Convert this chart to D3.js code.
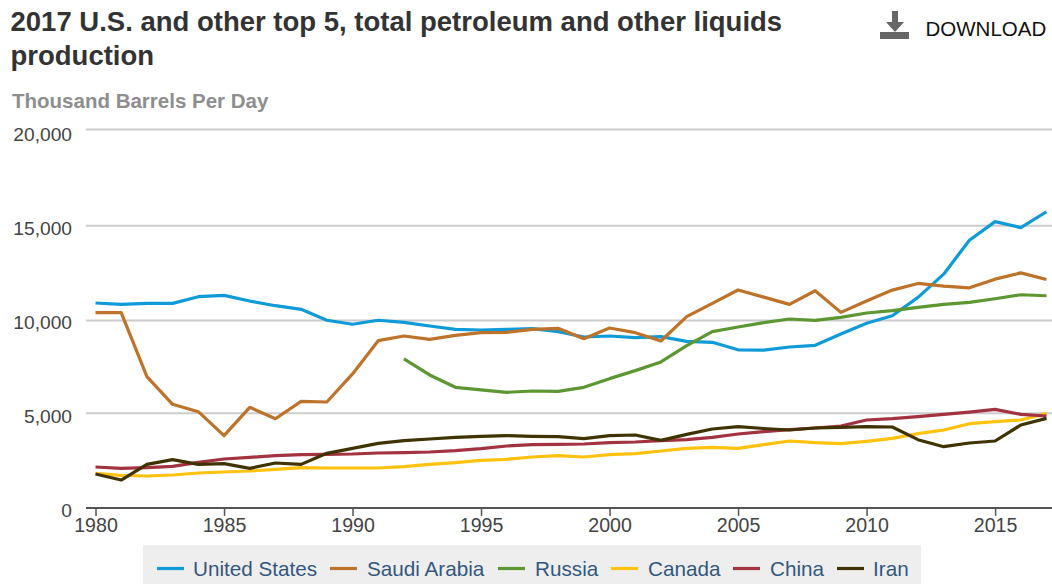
<!DOCTYPE html>
<html><head><meta charset="utf-8">
<script src="https://cdn.jsdelivr.net/npm/d3@7/dist/d3.min.js"></script>
<style>
html,body{margin:0;padding:0;background:#fff;overflow:hidden}
svg{display:block;font-family:"Liberation Sans",Arial,sans-serif}
.tick text{font-family:"Liberation Sans",Arial,sans-serif;fill:#444}
.ya .tick text{font-size:19.2px}
.xa .tick text{font-size:19.6px}
</style></head><body><svg id="c" width="1052" height="584"></svg>
<script>
const years = d3.range(1980, 2018);
const titleLines = ["2017 U.S. and other top 5, total petroleum and other liquids", "production"];
const subtitle = "Thousand Barrels Per Day";
const yTicks = [0, 5000, 10000, 15000, 20000];
const xTicks = [1980, 1985, 1990, 1995, 2000, 2005, 2010, 2015];
const unitedStates = [10898,10830,10880,10880,11230,11300,11000,10755,10565,9985,9770,9985,9875,9677,9497,9461,9497,9533,9371,9083,9137,9048,9102,8850,8796,8392,8374,8544,8634,9245,9820,10228,11193,12420,14210,15193,14877,15704];
const saudiArabia = [10385,10385,6944,5453,5054,3786,5291,4683,5614,5577,7090,8884,9137,8958,9173,9317,9335,9497,9551,8994,9569,9317,8868,10176,10880,11582,11210,10824,11544,10403,11000,11579,11930,11790,11700,12157,12490,12140];
const russia = [null,null,null,null,null,null,null,null,null,null,null,null,7898,7035,6370,6230,6100,6170,6150,6370,6837,7269,7736,8616,9371,9620,9856,10053,9982,10140,10368,10491,10667,10824,10930,11123,11333,11280];
const canada = [1798,1692,1657,1710,1816,1868,1921,2009,2097,2080,2080,2080,2150,2273,2362,2485,2538,2661,2732,2661,2785,2837,2978,3119,3172,3119,3310,3505,3417,3364,3488,3646,3892,4086,4420,4526,4614,4966];
const china = [2132,2062,2097,2168,2379,2555,2643,2731,2784,2801,2819,2872,2889,2924,2996,3101,3242,3312,3330,3348,3418,3453,3524,3577,3700,3876,3998,4104,4192,4297,4614,4684,4790,4913,5036,5177,4913,4825];
const iran = [1763,1446,2273,2520,2273,2308,2062,2344,2273,2854,3118,3382,3523,3611,3700,3753,3788,3753,3735,3629,3788,3823,3541,3858,4140,4263,4165,4086,4192,4227,4262,4244,3576,3206,3400,3505,4350,4702];
const seriesNames = ["United States","Saudi Arabia","Russia","Canada","China","Iran"];
const seriesValues = [unitedStates,saudiArabia,russia,canada,china,iran];
const seriesColors = ["#0f9bd7","#bd732a","#5d9732","#ffc20e","#a33340","#3f3303"];
const legendLineX = [157,330,498,611,733,837];
const legendTextX = [193,367,535,648,770,873];

const svg = d3.select("#c");
const x = d3.scaleLinear().domain([1980,2017]).range([95.5,1046.5]);
const y = d3.scaleLinear().domain(yTicks).range([507.4,412.7,320,225.3,129]);
const yLabel = d3.scaleLinear().domain([0,20000]).range([516.7,140.7]);

svg.selectAll(".title").data(titleLines).join("text").attr("class","title")
  .attr("x",10.5).attr("y",(d,i)=>30.5+i*34.5).attr("font-size",27.5).attr("font-weight","bold").attr("fill","#333").text(d=>d);
svg.append("text").attr("x",12).attr("y",107.7).attr("font-size",20.5).attr("font-weight","bold").attr("fill","#8e8e8e").text(subtitle);

// download
svg.append("path").attr("fill","#666")
  .attr("d",d3.line()([[892,11],[898,11],[898,22],[904,22],[895,32],[909,32],[909,39],[880,39],[880,32],[895,32],[886,22],[892,22]])+"Z");
svg.append("text").attr("x",925.5).attr("y",35.5).attr("font-size",20.5).attr("fill","#111").text("DOWNLOAD");

// y axis with gridlines
const gy = svg.append("g").attr("class","ya").attr("transform","translate(86,0)")
  .call(d3.axisLeft(y).tickValues(yTicks).tickSize(0).tickPadding(14).tickFormat(d3.format(",")));
gy.select(".domain").remove();
gy.selectAll(".tick text").attr("dy",0).attr("y",d=>yLabel(d)-y(d));
gy.selectAll(".tick line").attr("x1",0).attr("x2",966).attr("stroke","#ccc").attr("stroke-width",2);
gy.selectAll(".tick").filter(d=>d===0).select("line").attr("stroke","#555");

// x axis
const gx = svg.append("g").attr("class","xa").attr("transform","translate(0,507.4)")
  .call(d3.axisBottom(x).tickValues(xTicks).tickSize(8.5).tickPadding(2).tickFormat(d3.format("d")));
gx.select(".domain").remove();
gx.selectAll(".tick line").attr("stroke","#555").attr("stroke-width",1.5);

// lines
const line = d3.line().defined(d=>d.v!=null).x(d=>x(d.year)).y(d=>y(d.v));
svg.selectAll(".series").data(seriesValues).join("path").attr("class","series")
  .attr("fill","none").attr("stroke",(d,i)=>seriesColors[i]).attr("stroke-width",3.2).attr("stroke-linejoin","round")
  .attr("d",vals=>line(vals.map((v,i)=>({year:years[i],v}))));

// legend
svg.append("rect").attr("x",143).attr("y",545).attr("width",778).attr("height",39).attr("fill","#eee");
const lg = svg.selectAll(".lg").data(seriesNames).join("g").attr("class","lg");
lg.append("line").attr("x1",(d,i)=>legendLineX[i]).attr("x2",(d,i)=>legendLineX[i]+27).attr("y1",568.5).attr("y2",568.5)
  .attr("stroke",(d,i)=>seriesColors[i]).attr("stroke-width",3.2);
lg.append("text").attr("x",(d,i)=>legendTextX[i]).attr("y",576).attr("font-size",20.7).attr("fill","#33577f").text(d=>d);
</script></body></html>
